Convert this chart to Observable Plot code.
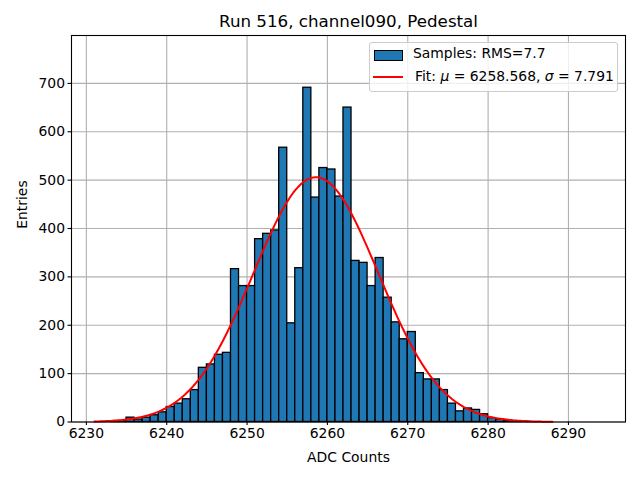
<!DOCTYPE html>
<html>
<head>
<meta charset="utf-8">
<script src="https://cdn.jsdelivr.net/npm/d3@7"></script>
<script src="https://cdn.jsdelivr.net/npm/@observablehq/plot@0.6"></script>
<style>
  html, body { margin: 0; padding: 0; background: #fff; }
  #wrap { position: relative; width: 640px; height: 480px; font-family: "DejaVu Sans", sans-serif; }
  #legend { position: absolute; left: 369px; top: 42px; width: 247px; height: 48px;
    border: 1px solid #cccccc; border-radius: 3px; background: rgba(255,255,255,0.8);
    font-size: 13.9px; color: #000; }
  .sw { position: absolute; }
  .lab { position: absolute; white-space: nowrap; }
</style>
</head>
<body>
<div id="wrap"></div>
<script>
// Histogram bins: left edge of each 1-count-wide bin and its entries
const binStart = [6233,6234,6235,6236,6237,6238,6239,6240,6241,6242,6243,6244,6245,6246,6247,6248,6249,6250,6251,6252,6253,6254,6255,6256,6257,6258,6259,6260,6261,6262,6263,6264,6265,6266,6267,6268,6269,6270,6271,6272,6273,6274,6275,6276,6277,6278,6279,6280,6281,6282,6283,6284];
const counts   = [1,2,9,5,9,14,20,31,38,47,66,112,119,139,143,316,281,281,378,389,396,567,204,318,691,464,525,522,466,650,333,329,281,339,257,206,171,186,101,88,88,66,38,22,28,25,16,8,5,3,1,1];
const binWidth = 1;

// Gaussian fit parameters (from legend)
const fitMu = 6258.568;
const fitSigma = 7.791;
const fitAmp = 506;
const fitRange = [6231, 6288];

const xTicks = [6230, 6240, 6250, 6260, 6270, 6280, 6290];
const yTicks = [0, 100, 200, 300, 400, 500, 600, 700];

const titleText = "Run 516, channel090, Pedestal";
const xLabel = "ADC Counts";
const yLabel = "Entries";
const legendSamples = "Samples: RMS=7.7";

const bins = binStart.map((b, i) => ({x1: b, x2: b + binWidth, y: counts[i]}));
const fitX = d3.range(fitRange[0], fitRange[1] + 0.001, 0.25);
const fit = fitX.map(x => ({x, y: fitAmp * Math.exp(-0.5 * ((x - fitMu) / fitSigma) ** 2)}));

const gridStyle = {stroke: "#b0b0b0", strokeOpacity: 1, strokeWidth: 1.1};

const chart = Plot.plot({
  width: 640,
  height: 480,
  marginTop: 35,
  marginBottom: 58.5,
  marginLeft: 71,
  marginRight: 15,
  style: {fontFamily: "DejaVu Sans, sans-serif", fontSize: "13.9px", color: "#000", background: "#fff"},
  x: {domain: [6228.15, 6297.1]},
  y: {domain: [0, 799]},
  marks: [
    Plot.gridX(xTicks, gridStyle),
    Plot.gridY(yTicks, gridStyle),
    Plot.rectY(bins, {x1: "x1", x2: "x2", y: "y", fill: "#1f77b4", stroke: "black", strokeWidth: 1.3, inset: 0}),
    Plot.line(fit, {x: "x", y: "y", stroke: "red", strokeWidth: 2}),
    Plot.frame({stroke: "black", strokeWidth: 1.1}),
    Plot.axisX(xTicks, {tickSize: 3.5, tickPadding: 3, fontSize: 13.9, label: null, tickFormat: d => String(d), stroke: "black", strokeWidth: 1.1}),
    Plot.axisY(yTicks, {tickSize: 3.5, tickPadding: 3, fontSize: 13.9, label: null, tickFormat: d => String(d), stroke: "black", strokeWidth: 1.1}),
    Plot.text([titleText], {frameAnchor: "top", lineAnchor: "middle", dy: -14, fontSize: 16.7}),
    Plot.text([xLabel], {frameAnchor: "bottom", lineAnchor: "middle", dy: 36, fontSize: 13.9}),
    Plot.text([yLabel], {frameAnchor: "left", lineAnchor: "middle", dx: -49, rotate: -90, fontSize: 13.9})
  ]
});

const wrap = document.getElementById("wrap");
wrap.appendChild(chart);

const legend = document.createElement("div");
legend.id = "legend";
legend.innerHTML = `
  <div class="sw" style="left:4px; top:7px; width:27px; height:9px; background:#1f77b4; border:1px solid black;"></div>
  <div class="lab" style="left:43px; top:2px;">${legendSamples}</div>
  <div class="sw" style="left:3px; top:33px; width:30px; height:2px; background:red;"></div>
  <div class="lab" style="left:45px; top:25px;">Fit: <i>μ</i> = ${fitMu.toFixed(3)}, <i>σ</i> = ${fitSigma.toFixed(3)}</div>
`;
wrap.appendChild(legend);
</script>
</body>
</html>
